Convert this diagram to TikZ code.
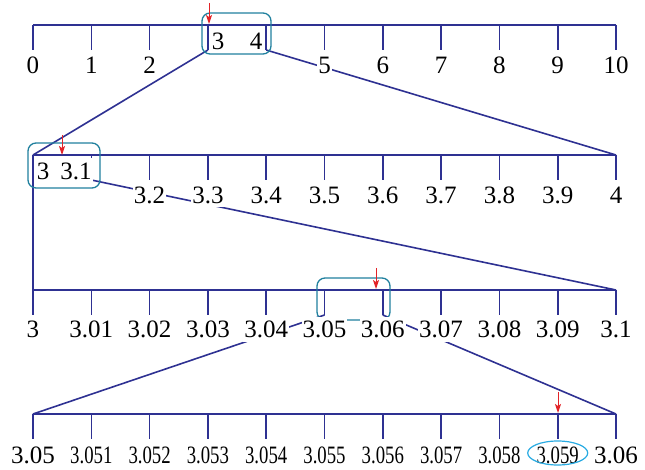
\documentclass[tikz,border=0pt]{standalone}
\usepackage{fontspec}
\setmainfont{Liberation Serif}
\usetikzlibrary{arrows.meta}
\definecolor{lineblue}{RGB}{46,49,146}
\definecolor{boxteal}{RGB}{32,128,158}
\definecolor{ovalcyan}{RGB}{41,171,226}
\definecolor{arrowred}{RGB}{226,35,40}

\begin{document}
\begin{tikzpicture}[x=1pt,y=-1pt,
  axis/.style={draw=lineblue,line width=1.6pt},
  num/.style={fill=white,inner xsep=1pt,inner ysep=4pt,text height=17pt,text depth=0pt,
    font=\fontsize{25}{30}\selectfont},
  bracket/.style={draw=boxteal,line width=1.3pt,rounded corners=8pt},
  pointer/.style={draw=arrowred,line width=1pt,-{Stealth[length=9pt,width=6pt,inset=2pt]}}]
\useasboundingbox (0,0) rectangle (645,470);
\def\dx{58.3}
% four number lines, each with 11 ticks
\foreach \r/\y in {a/25,b/155,c/290,d/414}{
  \coordinate (\r L) at (33,\y);
  \coordinate (\r R) at (616,\y);
  \draw[axis] (\r L) -- (\r R);
  \foreach \k in {0,...,10}
    \draw[axis] (33+\k*\dx,\y) -- (33+\k*\dx,\y+25) coordinate (\r\k);
}
% zoom lines
\draw[axis] (a3) -- (bL);
\draw[axis] (a4) -- (bR);
\draw[axis] (bL) -- (cL);
\draw[axis] (b1) -- (cR);
\draw[axis] (c5) -- (dL);
\draw[axis] (c6) -- (dR);
% brackets
\draw[bracket] (202,13) rectangle (271,54);
\draw[bracket] (28,143) rectangle (100,188);
\draw[bracket] (317,278) rectangle (390,320);
% labels
\foreach \k in {0,1,2,5,6,7,8,9,10}
  \node[num] (la\k) at (33+\k*\dx,65) {\k};
\node[num] (la3) at (218,41) {3};
\node[num] (la4) at (256,41) {4};
\node[num] (lb0) at (43,171) {3};
\node[num] (lb1) at (76,171) {3.1};
\foreach \k in {2,...,9}
  \node[num] (lb\k) at (33+\k*\dx,195) {3.\k};
\node[num] (lb10) at (616,195) {4};
\node[num] (lc0) at (33,329) {3};
\foreach \k in {1,...,9}
  \node[num] (lc\k) at (33+\k*\dx,329) {3.0\k};
\node[num] (lc10) at (616,329) {3.1};
\node[num] (ld0) at (33,455) {3.05};
\foreach \k in {1,...,9}
  \node[num] (ld\k) at (33+\k*\dx,455) {\scalebox{.75}[1]{3.05\k}};
\node[num] (ld10) at (616,455) {3.06};
\draw[ovalcyan,line width=1.2pt] (ld9.center) ++(0,-2) ellipse [x radius=30, y radius=12];
% red pointers
\draw[pointer] (209,3) -- (209,24);
\draw[pointer] (62,135) -- (62,155);
\draw[pointer] (376,268) -- (376,289);
\draw[pointer] (558,392) -- (558,413);
\end{tikzpicture}
\end{document}
